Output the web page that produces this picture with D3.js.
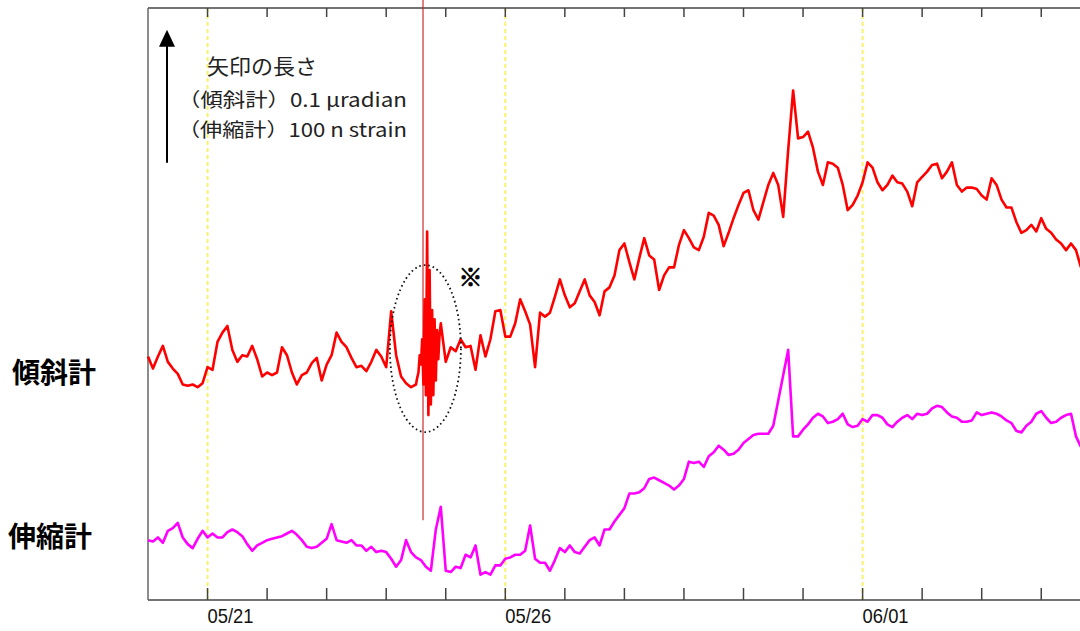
<!DOCTYPE html>
<html>
<head>
<meta charset="utf-8">
<script src="https://cdn.jsdelivr.net/npm/d3@7"></script>
<style>
  body { margin: 0; background: #fff; }
  svg { display: block; }
</style>
</head>
<body>
<div id="chart"></div>
<script>
// time axis
const START = new Date(2019, 4, 20)
const END = new Date(2019, 5, 5)
const STEP_H = 2

// tilt (nrad), one value every 2 hours from 05/20 00:00
const tiltValues = [10, 1, 10, 18, 6, 1, -3, -11, -12, -11,
  -13, -10, 2, 0, 21, 28, 33, 15, 6, 11,
  10, 18, 8, -5, -2, -4, -2, 17, 11, -2,
  -11, -4, -2, 5, 9, -8, 4, 11, 28, 21,
  17, 9, 2, 3, -1, 6, 15, 10, 2, 44,
  11, -5, -10, -13, -11, 8, 104, -30, 38, 35,
  6, 17, 14, 23, 17, 18, 0, 26, 10, 23,
  44, 45, 25, 25, 35, 53, 44, 34, 2, 43,
  40, 43, 55, 68, 56, 47, 50, 59, 68, 56,
  51, 41, 59, 62, 71, 90, 95, 81, 68, 84,
  99, 86, 83, 60, 71, 77, 77, 94, 105, 99,
  92, 90, 100, 118, 116, 109, 93, 103, 114, 124,
  133, 135, 120, 113, 126, 139, 148, 139, 115, 165,
  210, 174, 175, 179, 167, 149, 139, 156, 155, 152,
  139, 120, 124, 131, 141, 156, 152, 141, 135, 139,
  146, 141, 140, 134, 123, 141, 145, 149, 154, 155,
  144, 149, 156, 139, 134, 137, 137, 136, 131, 128,
  144, 139, 128, 122, 122, 111, 103, 105, 109, 104,
  114, 106, 103, 98, 95, 90, 95, 90, 77]

// tilt during the shaking, every 30 minutes from hour 108 to 118
const QUAKE_START_H = 108
const QUAKE_END_H = 118
const QUAKE_STEP_H = 0.5
const tiltQuakeValues = [-11, -6, -2, 11, 4, 23, -11, 53, -19, 104,
  -34, 75, -26, 45, -19, 38, -8, 30, 8, 26, 35]

// strain (nstrain), one value every 2 hours from 05/20 00:00
const strainValues = [0, -1, 2, -2, 7, 9, 13, 2, -3, -6,
  1, 7, 2, 5, 2, 2, 6, 8, 6, 3,
  -3, -8, -4, -2, 0, 1, 2, 3, 5, 7,
  4, 0, -5, -6, -5, -2, 1, 12, 0, -1,
  -2, 0, -4, -4, -8, -5, -9, -8, -9, -14,
  -20, -15, 0, -9, -13, -15, -20, -23, 8, 25,
  -23, -24, -20, -21, -11, -13, -4, -26, -24, -26,
  -19, -19, -14, -13, -11, -11, -8, 11, -14, -17,
  -17, -23, -15, -6, -9, -4, -9, -10, -5, 0,
  2, -4, 8, 8, 14, 19, 24, 35, 35, 36,
  39, 46, 47, 45, 43, 41, 38, 41, 46, 59,
  58, 59, 55, 63, 66, 71, 68, 64, 65, 68,
  73, 76, 79, 80, 80, 80, 86, 105, 124, 143,
  78, 78, 83, 87, 92, 95, 93, 88, 89, 91,
  95, 87, 85, 86, 91, 89, 94, 94, 92, 87,
  85, 89, 92, 94, 91, 95, 94, 95, 99, 101,
  100, 96, 93, 92, 89, 89, 90, 96, 94, 95,
  96, 95, 93, 90, 88, 82, 81, 86, 89, 95,
  97, 92, 88, 89, 92, 94, 95, 78, 70]

const labelDates = [new Date(2019, 4, 21), new Date(2019, 4, 26), new Date(2019, 5, 1)]
const labelTexts = ['05/21', '05/26', '06/01']
const quakeTime = new Date(2019, 4, 24, 14, 50)
const seriesNames = ['傾斜計', '伸縮計']
const legendLines = ['矢印の長さ', '（傾斜計）0.1 μradian', '（伸縮計）100 n strain']
const ARROW_LEN = 100 // 0.1 μrad = 100 nrad, 100 nstrain

const width = 1080
const height = 631
const margin = {left: 148, top: 8, bottom: 31}
const plotBottom = height - margin.bottom
const dayPx = 59.55

const at = h => new Date(+START + h * 3600e3)

const x = d3.scaleTime()
  .domain([START, END])
  .range([margin.left, margin.left + 16 * dayPx])

// same px per unit for both, only the offset differs
const yTilt = d3.scaleLinear().domain([-173, 272]).range([plotBottom, margin.top])
const yStrain = d3.scaleLinear().domain([-45, 400]).range([plotBottom, margin.top])

const tilt = tiltValues
  .map((v, i) => ({h: i * STEP_H, v}))
  .filter(d => d.h < QUAKE_START_H || d.h > QUAKE_END_H)
  .concat(tiltQuakeValues.map((v, i) => ({h: QUAKE_START_H + i * QUAKE_STEP_H, v})))
  .sort((a, b) => a.h - b.h)

const strain = strainValues.map((v, i) => ({h: i * STEP_H, v}))

const svg = d3.select('#chart')
  .append('svg')
  .attr('width', width)
  .attr('height', height)

// yellow dashed day lines
svg.selectAll('line.day')
  .data(labelDates)
  .enter()
  .append('line')
  .attr('class', 'day')
  .attr('x1', d => x(d)).attr('x2', d => x(d))
  .attr('y1', margin.top).attr('y2', plotBottom)
  .attr('stroke', '#f7f26a')
  .attr('stroke-width', 2)
  .attr('stroke-dasharray', '4 3')

// frame
const frame = '#444'
svg.append('line')
  .attr('x1', margin.left).attr('x2', width)
  .attr('y1', margin.top).attr('y2', margin.top)
  .attr('stroke', frame).attr('stroke-width', 1.5)
svg.append('line')
  .attr('x1', margin.left).attr('x2', width)
  .attr('y1', plotBottom).attr('y2', plotBottom)
  .attr('stroke', frame).attr('stroke-width', 1.5)
svg.append('line')
  .attr('x1', margin.left).attr('x2', margin.left)
  .attr('y1', margin.top).attr('y2', plotBottom)
  .attr('stroke', '#666').attr('stroke-width', 1.5)

const days = d3.timeDay.range(d3.timeDay.offset(START, 1), END)
svg.selectAll('line.tickb')
  .data(days)
  .enter()
  .append('line')
  .attr('x1', d => x(d)).attr('x2', d => x(d))
  .attr('y1', plotBottom).attr('y2', plotBottom - 12)
  .attr('stroke', frame).attr('stroke-width', 1.5)
svg.selectAll('line.tickt')
  .data(days)
  .enter()
  .append('line')
  .attr('x1', d => x(d)).attr('x2', d => x(d))
  .attr('y1', margin.top).attr('y2', margin.top + 9)
  .attr('stroke', frame).attr('stroke-width', 1.5)

svg.selectAll('text.xlab')
  .data(labelDates)
  .enter()
  .append('text')
  .attr('x', d => x(d))
  .attr('y', 623)
  .attr('font-family', 'Liberation Sans, sans-serif')
  .attr('font-size', 21)
  .attr('textLength', 46)
  .attr('lengthAdjust', 'spacingAndGlyphs')
  .attr('fill', '#111')
  .text((d, i) => labelTexts[i])

// quake marker
svg.append('line')
  .attr('x1', x(quakeTime)).attr('x2', x(quakeTime))
  .attr('y1', 0).attr('y2', yStrain(15))
  .attr('stroke', '#cc2a2a').attr('stroke-width', 1.2)

// traces
const lineTilt = d3.line().x(d => x(at(d.h))).y(d => yTilt(d.v))
const lineStrain = d3.line().x(d => x(at(d.h))).y(d => yStrain(d.v))

svg.append('path')
  .datum(tilt)
  .attr('d', lineTilt)
  .attr('fill', 'none')
  .attr('stroke', '#ff0000')
  .attr('stroke-width', 2.6)
  .attr('stroke-linejoin', 'round')

svg.append('path')
  .datum(strain)
  .attr('d', lineStrain)
  .attr('fill', 'none')
  .attr('stroke', '#ff00ff')
  .attr('stroke-width', 2.6)
  .attr('stroke-linejoin', 'round')

// dotted ellipse round the shaking + mark
const ellH = 111.8
svg.append('ellipse')
  .attr('cx', x(at(ellH)))
  .attr('cy', yTilt(16))
  .attr('rx', 35.5)
  .attr('ry', 83.5)
  .attr('fill', 'none')
  .attr('stroke', '#111')
  .attr('stroke-width', 1.8)
  .attr('stroke-dasharray', '1.6 3')

svg.append('text')
  .attr('x', x(at(ellH)) + 33)
  .attr('y', yTilt(16) - 63)
  .attr('font-family', 'Noto Sans CJK JP')
  .attr('font-size', 24)
  .attr('font-weight', 'bold')
  .attr('stroke', '#000')
  .attr('stroke-width', 0.8)
  .attr('fill', '#000')
  .text('※')

// scale arrow
const arrowBase = 155.6
const ax = 167
const ay1 = yTilt(arrowBase)
const ay2 = yTilt(arrowBase + ARROW_LEN)
svg.append('line')
  .attr('x1', ax).attr('x2', ax)
  .attr('y1', ay1).attr('y2', ay2 + 14)
  .attr('stroke', '#000').attr('stroke-width', 2)
svg.append('path')
  .attr('d', `M${ax},${ay2} L${ax - 8},${ay2 + 17} L${ax + 8},${ay2 + 17} Z`)
  .attr('fill', '#000')

const legendX = [207, 178, 178]
const legendY = [74, 107, 137]
const legendW = [110, 229, 229]
svg.selectAll('text.leg')
  .data(legendLines)
  .enter()
  .append('text')
  .attr('x', (d, i) => legendX[i])
  .attr('y', (d, i) => legendY[i])
  .attr('font-family', 'Noto Sans CJK JP')
  .attr('font-size', (d, i) => i === 0 ? 21 : 19)
  .attr('textLength', (d, i) => legendW[i])
  .attr('lengthAdjust', 'spacingAndGlyphs')
  .attr('fill', '#222')
  .text(d => d)

// series names on the left
const nameX = [12, 8]
const nameY = [yTilt(-10), yStrain(-5)]
svg.selectAll('text.name')
  .data(seriesNames)
  .enter()
  .append('text')
  .attr('x', (d, i) => nameX[i])
  .attr('y', (d, i) => nameY[i])
  .attr('font-family', 'Noto Sans CJK JP')
  .attr('font-size', 28)
  .attr('font-weight', 'bold')
  .attr('fill', '#000')
  .text(d => d)
</script>
</body>
</html>
